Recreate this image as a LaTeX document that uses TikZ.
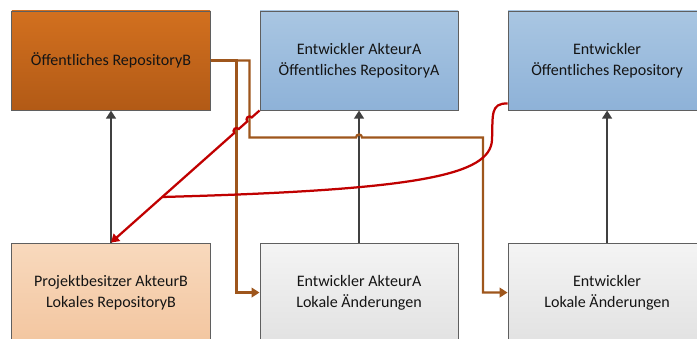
\documentclass[tikz,border=0pt]{standalone}
\usepackage{fontspec}
\setmainfont{Carlito}
\usetikzlibrary{positioning,calc,arrows.meta}
\definecolor{orangetop}{HTML}{D2701F}
\definecolor{orangebot}{HTML}{B25A16}
\definecolor{bluetop}{HTML}{A9C6E2}
\definecolor{bluebot}{HTML}{8EB2D8}
\definecolor{peachtop}{HTML}{F8D9BD}
\definecolor{peachbot}{HTML}{F3C6A0}
\definecolor{graytop}{HTML}{F4F4F4}
\definecolor{graybot}{HTML}{E2E2E2}
\definecolor{bordergray}{HTML}{5F5F5F}
\definecolor{brownline}{HTML}{9E561C}
\definecolor{redline}{HTML}{C00000}
\definecolor{darkline}{HTML}{404040}
\definecolor{textgray}{HTML}{141414}

\begin{document}
\begin{tikzpicture}[x=0.025cm, y=0.025cm, node distance=3.3cm and 1.225cm, >={Triangle[length=0.2cm, width=0.24cm]},
  every node/.style={font=\fontsize{11.4}{14.8}\selectfont, text=textgray},
  box/.style={draw=bordergray, line width=0.7pt, minimum width=4.95cm, minimum height=2.475cm, align=center, inner sep=2pt},
  push/.style={->, line width=1.7pt, darkline},
  fork/.style={->, line width=1.6pt, brownline},
  pull/.style={->, line width=1.6pt, redline}]
\useasboundingbox (0,0) rectangle (697,-338);
% top row
\node[box, top color=orangetop, bottom color=orangebot] (bpub) at (111,-60.5) {Öffentliches RepositoryB};
\node[box, top color=bluetop, bottom color=bluebot, right=of bpub] (apub) {Entwickler AkteurA\\Öffentliches RepositoryA};
\node[box, top color=bluetop, bottom color=bluebot, right=of apub] (dpub) {Entwickler\\Öffentliches Repository};
% bottom row
\node[box, top color=peachtop, bottom color=peachbot, below=of bpub] (bloc) {Projektbesitzer AkteurB\\Lokales RepositoryB};
\node[box, top color=graytop, bottom color=graybot, below=of apub] (aloc) {Entwickler AkteurA\\Lokale Änderungen};
\node[box, top color=graytop, bottom color=graybot, below=of dpub] (dloc) {Entwickler\\Lokale Änderungen};

\draw[push] (bloc.north) -- (bpub.south);
\draw[push] (aloc.north) -- (apub.south);
\draw[push] (dloc.north) -- (dpub.south);

\coordinate (hop) at ($(apub.south)+(0,-27)$);
\draw[fork] (bpub.east) -- ++(26,0) |- (aloc.west);
\draw[fork] (bpub.east) -- ++(39,0) |- ([xshift=-0.075cm]hop) arc[start angle=180, end angle=0, radius=3] -- ++(121,0) |- (dloc.west);

\coordinate (join) at ($(apub.south west)!0.655!(bloc.north)$);
\coordinate (dout) at ($(dpub.south west)+(0,7)$);
\draw[pull] (apub.south west) -- ($(apub.south west)!0.26cm!(bloc.north)$) arc[start angle=41.7, end angle=221.7, radius=3]
  -- ($(apub.south west)!0.695cm!(bloc.north)$) arc[start angle=41.7, end angle=221.7, radius=3] -- (bloc.north);
\draw[line width=1.6pt, redline] (dout) .. controls (490,-103) and (493,-115) .. (492,-140)
  .. controls (490,-175) and (420,-190) .. (join);
\end{tikzpicture}
\end{document}
